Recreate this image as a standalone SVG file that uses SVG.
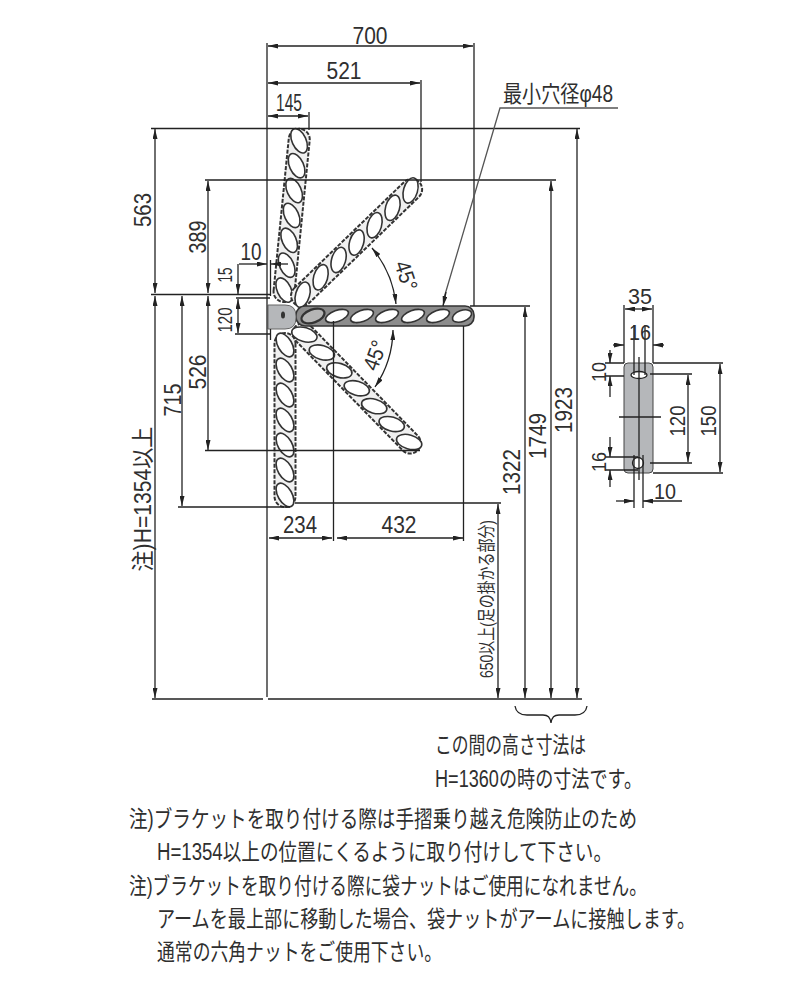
<svg xmlns="http://www.w3.org/2000/svg" width="800" height="1000" viewBox="0 0 800 1000">
<style>
text{font-family:"Liberation Sans","Noto Sans CJK JP",sans-serif;fill:#2f2f2f}
.d{font-size:24px}
.m{text-anchor:middle}
.n{font-size:23px}
.l{stroke:#222;stroke-width:1.3;fill:none}
.a{stroke:#222;stroke-width:1.3;fill:none;marker-start:url(#ar);marker-end:url(#ar)}
.e{stroke:#222;stroke-width:1.3;fill:none;marker-end:url(#ar)}
.body{fill:#f0f0f0;stroke:#333;stroke-width:2;stroke-dasharray:4 1.5}
.s{fill:#fff;stroke:#333;stroke-width:1.6}
</style>
<defs>
<marker id="ar" viewBox="0 0 10 5" refX="10" refY="2.500" markerWidth="10" markerHeight="5" markerUnits="userSpaceOnUse" orient="auto-start-reverse"><path d="M0 0L10 2.500L0 5z" fill="#222"/></marker>
<ellipse id="slot" rx="13" ry="7" transform="rotate(-30)"/>
<g id="slots" class="s">
<use href="#slot" x="12"/><use href="#slot" x="37"/><use href="#slot" x="62"/><use href="#slot" x="87"/><use href="#slot" x="112"/><use href="#slot" x="137"/><use href="#slot" x="162"/>
</g>
<g id="arm"><rect class="body" x="0" y="-10.500" width="174" height="21" rx="10.500"/><use href="#slots"/></g>
</defs>
<rect width="800" height="1000" fill="#fff"/>
<g id="arm-up"><use href="#arm" transform="translate(283,302) rotate(-84.3)"/></g>
<g id="arm-diag-up"><use href="#arm" transform="translate(294,303) rotate(-44)"/></g>
<g id="arm-diag-down"><use href="#arm" transform="translate(296,326) rotate(45.7)"/></g>
<g id="arm-down"><use href="#arm" transform="translate(285,333) rotate(90)"/></g>
<g id="arm-horizontal">
<rect x="296" y="306" width="178" height="20" rx="9" fill="#8c8c8c" stroke="#333" stroke-width="1.6"/>
<g class="s"><ellipse cx="313" cy="316" rx="12" ry="6.500" transform="rotate(-20 313 316)" style="fill:#b5b5b5;stroke-width:2.200"/><ellipse cx="337" cy="316" rx="12" ry="5.500" transform="rotate(-20 337 316)"/><ellipse cx="362" cy="316" rx="12" ry="5.500" transform="rotate(-20 362 316)"/><ellipse cx="387" cy="316" rx="12" ry="5.500" transform="rotate(-20 387 316)"/><ellipse cx="413" cy="316" rx="12" ry="5.500" transform="rotate(-20 413 316)"/><ellipse cx="438" cy="316" rx="12" ry="5.500" transform="rotate(-20 438 316)"/><ellipse cx="462" cy="316" rx="10" ry="5.500" transform="rotate(-20 462 316)"/></g>
</g>
<g id="bracket">
<path d="M268 305H285Q296 305 296 316V318Q296 329 285 329H268z" fill="#b5b7ba" stroke="#666" stroke-width="1"/>
<ellipse cx="283" cy="315" rx="2" ry="3.500" fill="#333"/>
</g>
<g id="plate">
<rect x="624" y="363" width="29" height="110" rx="4" fill="#b5b7ba" stroke="#444" stroke-width="1"/>
<ellipse cx="639" cy="375" rx="8" ry="3.500" fill="#fff" stroke="#222" stroke-width="1.300"/>
<circle cx="638" cy="463" r="5.500" fill="#fff" stroke="#222" stroke-width="1.300"/>
</g>
<g id="connectors">
<path class="l" d="M267 43V697M474 43V306M421 80V182M309 112V130"/>
<path class="a" d="M268 46H473"/><path class="a" d="M268 83H420"/><path class="a" d="M268 116H308"/>
<path class="l" d="M151 128.500H580M205 180H556M151 294.500H271M236 298H270M235 334H270M470 306H530M205 450.500H420M178 507H290M295 503H501M270.500 329V340"/>
<path class="l" d="M152 699H263M268 699H582"/>
<path class="a" d="M155 129V293"/><path class="a" d="M155 296V698"/>
<path class="a" d="M208 181V293"/><path class="a" d="M208 296V450"/>
<path class="a" d="M182 296V506"/>
<path class="a" d="M525 307V698"/><path class="a" d="M551 181V698"/><path class="a" d="M577 129V698"/><path class="a" d="M498 504V698"/>
<path class="e" d="M239 264H267"/><path class="e" d="M288 264H271"/><path class="l" d="M270.500 260V296"/>
<path class="e" d="M238 264V294"/><path class="a" d="M238 299V333"/>
<path class="a" d="M269 538H332"/><path class="a" d="M337 538H463"/><path class="l" d="M333.500 321V541M463.500 326V541"/>
<path class="a" d="M372 248A106 106 0 0 1 396 304"/><path class="a" d="M393 330A104 104 0 0 1 375 387"/>
<path d="M618 108H500L444 298" fill="none" stroke="#555" stroke-width="1.300"/>
<path class="e" d="M446 292L443 306"/>
<path class="l" d="M515 706C516 713 521 715 527 715H543C548 715 550 717 551 723C552 717 554 715 559 715H575C581 715 586 713 587 706"/>
<path class="l" d="M624 305V363M653 305V363M634 325V375M645 325V375M639 357V480M619 417H661M605 363H624M605 376H624M605 457H638M605 470H638M650 374H692M650 463H692M653 363H723M653 473H723M634 455V508M643 455V508"/>
<path class="a" d="M625 309H652"/>
<path class="e" d="M613 345H624"/><path class="e" d="M664 345H653"/>
<path class="e" d="M610 350V363"/><path class="e" d="M610 397V376"/>
<path class="e" d="M610 437V457"/><path class="e" d="M610 487V470"/>
<path class="e" d="M616 501H634"/><path class="e" d="M682 501H643"/>
<path class="a" d="M688 375V462"/><path class="a" d="M720 364V472"/>
</g>
<g id="labels">
<text class="d m" x="370" y="44" textLength="35" lengthAdjust="spacingAndGlyphs">700</text>
<text class="d m" x="344" y="79" textLength="35" lengthAdjust="spacingAndGlyphs">521</text>
<text class="d m" x="289" y="111" textLength="26" lengthAdjust="spacingAndGlyphs">145</text>
<text class="d m" x="251" y="260" textLength="21" lengthAdjust="spacingAndGlyphs">10</text>
<text class="d m" x="300" y="533" textLength="34" lengthAdjust="spacingAndGlyphs">234</text>
<text class="d m" x="399" y="533" textLength="35" lengthAdjust="spacingAndGlyphs">432</text>
<text class="d m" transform="translate(151,210) rotate(-90)" textLength="34" lengthAdjust="spacingAndGlyphs">563</text>
<text class="d m" transform="translate(206,237) rotate(-90)" textLength="33" lengthAdjust="spacingAndGlyphs">389</text>
<text class="d m" style="font-size:20px" transform="translate(232,275) rotate(-90)" textLength="15" lengthAdjust="spacingAndGlyphs">15</text>
<text class="d m" style="font-size:20px" transform="translate(232,320) rotate(-90)" textLength="25" lengthAdjust="spacingAndGlyphs">120</text>
<text class="d m" transform="translate(206,372) rotate(-90)" textLength="35" lengthAdjust="spacingAndGlyphs">526</text>
<text class="d m" transform="translate(181,400) rotate(-90)" textLength="33" lengthAdjust="spacingAndGlyphs">715</text>
<text class="m" style="font-size:23px" transform="translate(151,499) rotate(-90)" textLength="145" lengthAdjust="spacingAndGlyphs">注)H=1354以上</text>
<text class="d m" transform="translate(520,472) rotate(-90)" textLength="46" lengthAdjust="spacingAndGlyphs">1322</text>
<text class="d m" transform="translate(546,436) rotate(-90)" textLength="46" lengthAdjust="spacingAndGlyphs">1749</text>
<text class="d m" transform="translate(572,410) rotate(-90)" textLength="46" lengthAdjust="spacingAndGlyphs">1923</text>
<text class="m" style="font-size:18px" transform="translate(493,599) rotate(-90)" textLength="158" lengthAdjust="spacingAndGlyphs">650以上(足の掛かる部分)</text>
<text class="m" style="font-size:22px" transform="translate(399,278) rotate(72)" textLength="30" lengthAdjust="spacingAndGlyphs">45°</text>
<text class="m" style="font-size:22px" transform="translate(382,358) rotate(-70)" textLength="30" lengthAdjust="spacingAndGlyphs">45°</text>
<text x="503" y="102" style="font-size:23px" textLength="110" lengthAdjust="spacingAndGlyphs">最小穴径φ48</text>
<text class="d m" x="640" y="304" textLength="24" lengthAdjust="spacingAndGlyphs" style="font-size:22px">35</text>
<text class="d m" x="640" y="340" textLength="22" lengthAdjust="spacingAndGlyphs" style="font-size:22px">16</text>
<text class="d m" x="665" y="499" textLength="22" lengthAdjust="spacingAndGlyphs" style="font-size:22px">10</text>
<text class="d m" style="font-size:21px" transform="translate(606,372) rotate(-90)" textLength="20" lengthAdjust="spacingAndGlyphs">10</text>
<text class="d m" style="font-size:21px" transform="translate(606,462) rotate(-90)" textLength="20" lengthAdjust="spacingAndGlyphs">16</text>
<text class="d m" style="font-size:22px" transform="translate(685,421) rotate(-90)" textLength="31" lengthAdjust="spacingAndGlyphs">120</text>
<text class="d m" style="font-size:22px" transform="translate(716,421) rotate(-90)" textLength="31" lengthAdjust="spacingAndGlyphs">150</text>
<text class="n" x="435" y="753" textLength="151" lengthAdjust="spacingAndGlyphs">この間の高さ寸法は</text>
<text class="n" x="435" y="787" textLength="207" lengthAdjust="spacingAndGlyphs">H=1360の時の寸法です。</text>
<text class="n" x="129" y="827" textLength="508" lengthAdjust="spacingAndGlyphs">注)ブラケットを取り付ける際は手摺乗り越え危険防止のため</text>
<text class="n" x="157" y="860" textLength="455" lengthAdjust="spacingAndGlyphs">H=1354以上の位置にくるように取り付けして下さい。</text>
<text class="n" transform="translate(129,894) scale(0.78,1)" textLength="664" lengthAdjust="spacingAndGlyphs">注)ブラケットを取り付ける際に袋ナットはご使用になれません。</text>
<text class="n" transform="translate(157,927) scale(0.78,1)" textLength="690" lengthAdjust="spacingAndGlyphs">アームを最上部に移動した場合、袋ナットがアームに接触します。</text>
<text class="n" x="157" y="960" textLength="285" lengthAdjust="spacingAndGlyphs">通常の六角ナットをご使用下さい。</text>
</g>
</svg>
